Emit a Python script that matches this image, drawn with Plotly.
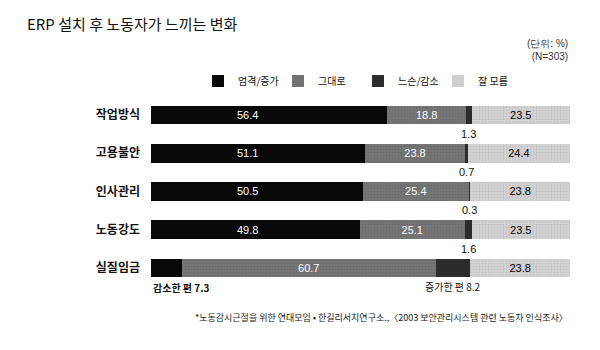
import plotly.graph_objects as go

categories = ["작업방식", "고용불안", "인사관리", "노동강도", "실질임금"]
series_names = ["엄격/증가", "그대로", "느슨/감소", "잘 모름"]
strict = [56.4, 51.1, 50.5, 49.8, 7.3]
same = [18.8, 23.8, 25.4, 25.1, 60.7]
loose = [1.3, 0.7, 0.3, 1.6, 8.2]
unknown = [23.5, 24.4, 23.8, 23.5, 23.8]

title = "ERP 설치 후 노동자가 느끼는 변화"
unit_lines = ["(단위: %)", "(N=303)"]
note = "*노동감시근절을 위한 연대모임 • 한길리서치연구소.,〈2003 보안관리시스템 관련 노동자 인식조사〉"
dec_label = "감소한 편"
inc_label = "증가한 편"

W, H = 600, 350
ML, MR, MT, MB = 151, 30, 88, 63
PH = H - MT - MB
KR = "Noto Sans CJK KR"
NUM = "Liberation Sans, Arial, sans-serif"


def py(px):
    return (H - MB - px) / PH


fig = go.Figure()
colors = ["#080808", "#727272", "#2c2c2c", "#d0d0d0"]
patterns = [
    None,
    dict(shape=".", fgcolor="#5e5e5e", bgcolor="#757575", size=3, solidity=0.25),
    None,
    dict(shape=".", fgcolor="#b4b4b4", bgcolor="#d3d3d3", size=3, solidity=0.35),
]
all_series = [strict, same, loose, unknown]
for i, (name, vals) in enumerate(zip(series_names, all_series)):
    marker = dict(color=colors[i], line=dict(width=0))
    if patterns[i]:
        marker["pattern"] = patterns[i]
    text = None
    if i in (1, 3):
        text = [f"{v:.1f}" for v in vals]
    fig.add_trace(go.Bar(
        y=categories, x=vals, name=name, orientation="h",
        marker=marker, text=text,
        textposition="inside" if text else "none",
        insidetextanchor="middle",
        textfont=dict(family=NUM, size=11, color="white" if i == 1 else "black"),
        hoverinfo="x+name",
    ))

annotations = []
# first-series labels (inside, fixed position)
for cat, v in zip(categories, strict):
    if v >= 10:
        annotations.append(dict(x=23, y=cat, xref="x", yref="y", text=f"{v:.1f}",
                                showarrow=False, font=dict(family=NUM, size=11, color="white")))
    else:
        annotations.append(dict(x=0, y=cat, xref="x", yref="y", text=f"{dec_label} {v:.1f}",
                                xanchor="left", yshift=-20, showarrow=False,
                                font=dict(family=KR, size=10, color="#111", weight=700)))
# small third-series labels below bars
for cat, a, b, c in zip(categories, strict, same, loose):
    xc = a + b + c / 2
    if a >= 10:
        txt = f"{c:.1f}"
        f = dict(family=NUM, size=11, color="#111")
    else:
        txt = f"{inc_label} {c:.1f}"
        f = dict(family=KR, size=10, color="#111")
    annotations.append(dict(x=xc, y=cat, xref="x", yref="y", text=txt, yshift=-19,
                            showarrow=False, font=f))

annotations.append(dict(x=1, y=py(50), xref="paper", yref="paper", xanchor="right", yanchor="middle",
                        text="<br>".join(unit_lines), align="right", showarrow=False,
                        font=dict(family=NUM, size=10, color="#333")))
annotations.append(dict(x=1, y=py(317), xref="paper", yref="paper", xanchor="right", yanchor="middle",
                        text=note, showarrow=False, font=dict(family=KR, size=9, color="#222")))

fig.update_layout(
    width=W, height=H,
    margin=dict(l=ML, r=MR, t=MT, b=MB),
    paper_bgcolor="white", plot_bgcolor="white",
    barmode="stack", bargap=0.51,
    title=dict(text=title, x=27 / W, xref="container", xanchor="left",
               y=1 - 25 / H, yref="container", yanchor="middle",
               font=dict(family=KR, size=15, color="#111")),
    xaxis=dict(range=[0, 100], visible=False, fixedrange=True),
    yaxis=dict(autorange="reversed", showgrid=False, showline=False, ticks="",
               ticklabelstandoff=10,
               tickfont=dict(family=KR, size=12, color="#111", weight=700)),
    legend=dict(orientation="h", x=(198 - ML) / (W - ML - MR), xanchor="left",
                y=py(81), yanchor="middle", traceorder="normal",
                font=dict(family=KR, size=10, color="#111"),
                itemwidth=30, entrywidth=35, bgcolor="rgba(0,0,0,0)"),
    annotations=annotations,
    showlegend=True,
)

fig.write_html("out.html")
